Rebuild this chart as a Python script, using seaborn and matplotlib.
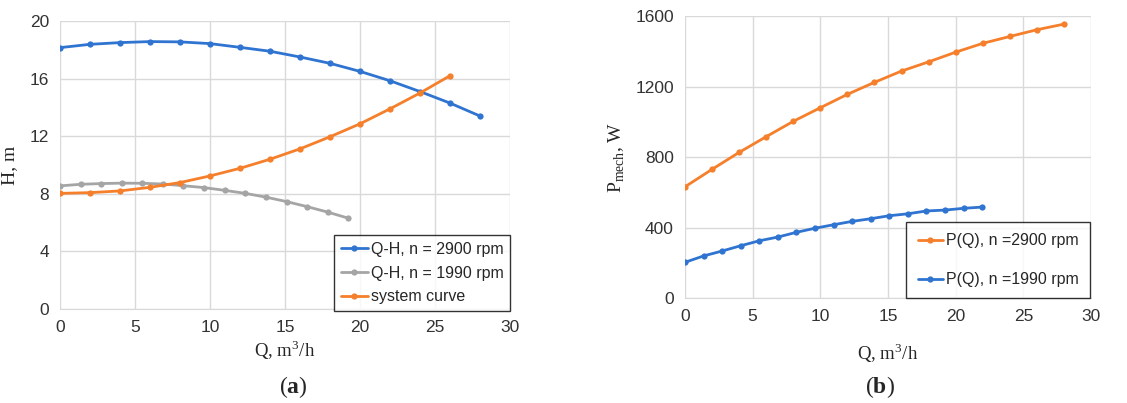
import seaborn as sns
import matplotlib.pyplot as plt
import pandas as pd

# Pump curves at 2900 rpm and 1990 rpm, plus system curve
q_2900 = [0, 2, 4, 6, 8, 10, 12, 14, 16, 18, 20, 22, 24, 26, 28]
h_2900 = [18.15, 18.38, 18.5, 18.57, 18.55, 18.43, 18.17, 17.9, 17.5, 17.06, 16.5, 15.85, 15.1, 14.3, 13.4]

q_1990 = [0, 1.37, 2.74, 4.12, 5.49, 6.86, 8.23, 9.6, 10.98, 12.35, 13.72, 15.1, 16.47, 17.84, 19.21]
h_1990 = [8.55, 8.66, 8.71, 8.74, 8.73, 8.68, 8.56, 8.43, 8.24, 8.03, 7.77, 7.46, 7.11, 6.73, 6.31]

q_sys = [0, 2, 4, 6, 8, 10, 12, 14, 16, 18, 20, 22, 24, 26]
h_sys = [8.03, 8.08, 8.2, 8.45, 8.78, 9.24, 9.77, 10.4, 11.12, 11.96, 12.86, 13.9, 15.0, 16.2]

# Mechanical power
p_2900 = [632, 731, 827, 916, 1003, 1080, 1156, 1224, 1288, 1340, 1395, 1445, 1484, 1522, 1554]
q_1990_p = [0, 1.37, 2.74, 4.12, 5.49, 6.86, 8.23, 9.6, 10.98, 12.35, 13.72, 15.1, 16.47, 17.84, 19.21, 20.58, 21.95]
p_1990 = [204, 240, 268, 298, 326, 347, 374, 397, 417, 436, 451, 468, 479, 495, 500, 510, 517]

BLUE = '#2f74d0'
ORANGE = '#f57f2a'
GRAY = '#a5a5a5'

sns.set_style('white')
plt.rcParams['font.family'] = ['Liberation Sans', 'DejaVu Sans']
# serif mathtext so superscripts/subscripts match the axis labels
plt.rcParams['mathtext.fontset'] = 'custom'
plt.rcParams['mathtext.rm'] = 'Liberation Serif'
plt.rcParams['mathtext.bf'] = 'Liberation Serif:bold'

fig = plt.figure(figsize=(11.27, 4.03), dpi=100)
ax1 = fig.add_axes([60 / 1127, 94 / 403, 450 / 1127, 288 / 403])
ax2 = fig.add_axes([685 / 1127, 104.7 / 403, 406 / 1127, 282.3 / 403])

line_kw = dict(marker='o', markersize=4.5, markeredgewidth=0, linewidth=2)

df_a1 = pd.DataFrame({'Q': q_2900, 'H': h_2900})
df_a2 = pd.DataFrame({'Q': q_1990, 'H': h_1990})
df_a3 = pd.DataFrame({'Q': q_sys, 'H': h_sys})
sns.lineplot(data=df_a1, x='Q', y='H', ax=ax1, color=BLUE, label='Q-H, n = 2900 rpm', **line_kw)
sns.lineplot(data=df_a2, x='Q', y='H', ax=ax1, color=GRAY, label='Q-H, n = 1990 rpm', **line_kw)
sns.lineplot(data=df_a3, x='Q', y='H', ax=ax1, color=ORANGE, label='system curve', **line_kw)

df_b1 = pd.DataFrame({'Q': q_2900, 'P': p_2900})
df_b2 = pd.DataFrame({'Q': q_1990_p, 'P': p_1990})
sns.lineplot(data=df_b1, x='Q', y='P', ax=ax2, color=ORANGE, label='P(Q), n =2900 rpm', **line_kw)
sns.lineplot(data=df_b2, x='Q', y='P', ax=ax2, color=BLUE, label='P(Q), n =1990 rpm', **line_kw)

ax1.set_xlim(0, 30)
ax1.set_ylim(0, 20)
ax1.set_xticks(range(0, 31, 5))
ax1.set_yticks(range(0, 21, 4))
ax2.set_xlim(0, 30)
ax2.set_ylim(0, 1600)
ax2.set_xticks(range(0, 31, 5))
ax2.set_yticks(range(0, 1601, 400))

for ax in (ax1, ax2):
    ax.grid(True, color='#d9d9d9', linewidth=1)
    ax.set_axisbelow(True)
    for s in ax.spines.values():
        s.set_visible(False)
    ax.spines['bottom'].set_visible(True)
    ax.spines['bottom'].set_color('#d9d9d9')
    ax.tick_params(axis='both', length=0, labelsize=12.5, colors='#333333', pad=8)

serif = ['Liberation Serif', 'DejaVu Serif']
ax1.set_xlabel('Q, m$^3$/h', family=serif, fontsize=13.5, labelpad=2)
ax1.set_ylabel('H, m', family=serif, fontsize=14, labelpad=8)
ax2.set_xlabel('Q, m$^3$/h', family=serif, fontsize=13.5, labelpad=12)
ax2.set_ylabel(r'P$_{\mathrm{mech}}$, W', family=serif, fontsize=14, labelpad=6)

leg1 = ax1.legend(loc='lower right', bbox_to_anchor=(1.0, -0.006), frameon=True, fancybox=False,
                  edgecolor='black', fontsize=11.5, handlelength=1.7, handletextpad=0.2,
                  labelspacing=0.55, borderpad=0.4, borderaxespad=0)
leg1.get_frame().set_linewidth(1)
leg2 = ax2.legend(loc='lower right', bbox_to_anchor=(0.998, 0.0), frameon=True, fancybox=False,
                  edgecolor='black', fontsize=11.5, handlelength=1.6, handletextpad=0.2,
                  labelspacing=1.5, borderpad=0.7, borderaxespad=0)
leg2.get_frame().set_linewidth(1)

fig.text(293 / 1127, 1 - 387 / 403, r'($\mathbf{a}$)', family=serif, fontsize=17, ha='center', va='center')
fig.text(880 / 1127, 1 - 387 / 403, r'($\mathbf{b}$)', family=serif, fontsize=17, ha='center', va='center')

fig.savefig('out.png', dpi=100)
